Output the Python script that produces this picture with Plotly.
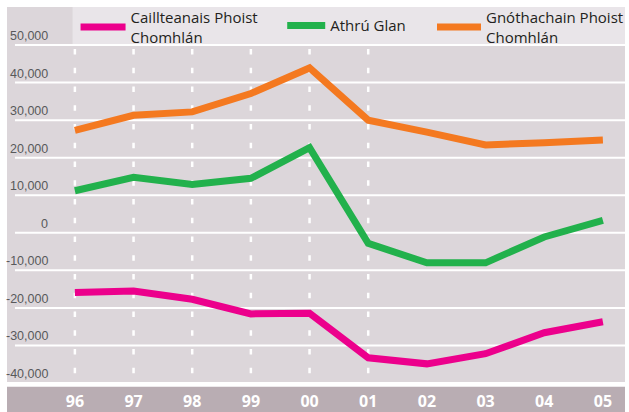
import plotly.graph_objects as go

years = ["96", "97", "98", "99", "00", "01", "02", "03", "04", "05"]
losses = [-15900, -15500, -17700, -21600, -21400, -33300, -34900, -32200, -26600, -23700]
net_change = [11200, 14800, 12900, 14500, 22700, -2800, -8000, -8000, -1100, 3300]
gains = [27300, 31300, 32200, 37100, 43900, 30000, 26800, 23400, 24000, 24700]

series_names = ["Caillteanais Phoist<br>Chomhlán", "Athrú Glan", "Gnóthachain Phoist<br>Chomhlán"]
series_values = [losses, net_change, gains]
series_colors = ["#ec008c", "#22b14c", "#f47920"]
legend_ids = ["legend", "legend2", "legend3"]

y_ticks = [50000, 40000, 30000, 20000, 10000, 0, -10000, -20000, -30000, -40000]
y_ticktext = ["50,000", "40,000", "30,000", "20,000", "10,000", "0",
              "-10,000", "-20,000", "-30,000", "-40,000"]

Y_MIN, Y_MAX = -39733, 60133

fig = go.Figure()
for name, vals, col, lg in zip(series_names, series_values, series_colors, legend_ids):
    fig.add_trace(go.Scatter(x=years, y=vals, mode="lines", name=name,
                             line=dict(color=col, width=7), legend=lg,
                             hoverinfo="skip"))

shapes = []
# legend band
shapes.append(dict(type="rect", xref="paper", yref="paper", x0=0.1061, x1=1.0,
                   y0=0.896, y1=1.0, fillcolor="#e9e5e9", line_width=0, layer="below"))
# bottom category band
shapes.append(dict(type="rect", xref="paper", yref="paper", x0=0.0, x1=1.0,
                   y0=-0.08, y1=-0.0125, fillcolor="#b9adb3", line_width=0, layer="below"))
# horizontal gridlines
for v in y_ticks:
    if v > Y_MIN:
        shapes.append(dict(type="line", xref="paper", yref="y", x0=0.0129, x1=1.0,
                           y0=v, y1=v, line=dict(color="white", width=2), layer="below"))
# vertical dashed lines
for yr in years:
    shapes.append(dict(type="line", xref="x", yref="y", x0=yr, x1=yr,
                       y0=48950, y1=Y_MIN,
                       line=dict(color="white", width=2.5, dash="5.5px,13.25px"),
                       layer="below"))

annotations = []
for v, t in zip(y_ticks, y_ticktext):
    annotations.append(dict(x=0.0691, xref="paper",
                            y=(v - Y_MIN) / (Y_MAX - Y_MIN), yref="paper", text=t,
                            showarrow=False, xanchor="right", yanchor="middle", yshift=9,
                            font=dict(family="Liberation Sans Narrow, Arial Narrow, sans-serif",
                                      size=12.5, color="#58595b")))

legend_font = dict(family="Open Sans, sans-serif", size=15, color="#231f20")
def lg(x, y, iw):
    return dict(x=x, y=y, xanchor="left", yanchor="middle", xref="paper", yref="paper",
                bgcolor="rgba(0,0,0,0)", font=legend_font, orientation="h",
                itemwidth=iw)

fig.update_layout(
    width=629, height=412,
    margin=dict(l=7, r=0, t=7, b=30),
    paper_bgcolor="white",
    plot_bgcolor="#dcd6da",
    shapes=shapes,
    annotations=annotations,
    showlegend=True,
    legend=lg((76 - 7) / 622, (382 - 27) / 375, 45),
    legend2=lg((284 - 7) / 622, (382 - 25.7) / 375, 38),
    legend3=lg((435 - 7) / 622, (382 - 27) / 375, 44),
    xaxis=dict(type="category", categoryorder="array", categoryarray=years,
               range=[-1.157, 9.377], showgrid=False, zeroline=False, showline=False,
               ticks="", ticklabelstandoff=8,
               tickfont=dict(family="Open Sans, sans-serif", size=16, color="white",
                             weight="bold"),
               fixedrange=True),
    yaxis=dict(range=[Y_MIN, Y_MAX], visible=False, showgrid=False, zeroline=False,
               fixedrange=True),
)

fig.write_html("out.html", config={"displayModeBar": False},
               post_script="document.body.style.margin='0px';")
